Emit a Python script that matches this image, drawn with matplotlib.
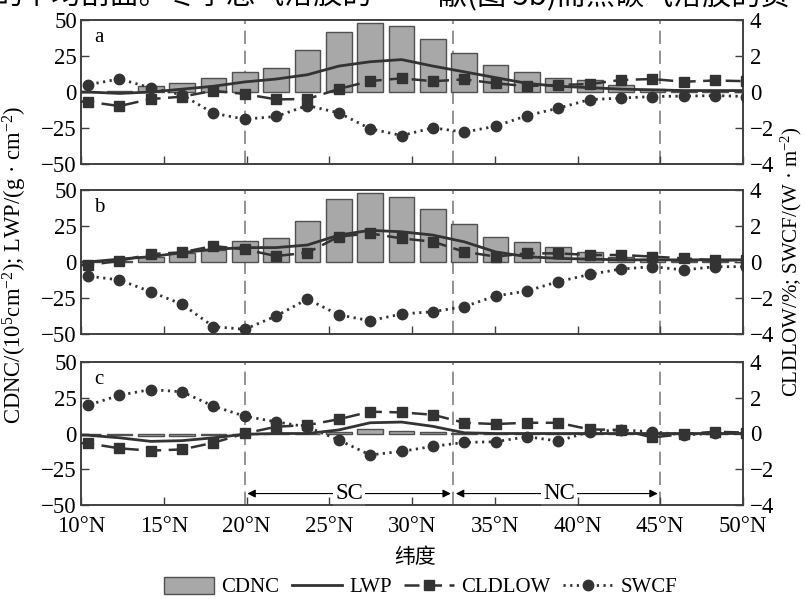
import matplotlib
matplotlib.use("Agg")
import matplotlib.pyplot as plt
from matplotlib.patches import Patch
from matplotlib.lines import Line2D

plt.rcParams['font.family'] = ['Liberation Serif', 'Noto Sans CJK SC', 'DejaVu Sans']
plt.rcParams['mathtext.fontset'] = 'custom'
plt.rcParams['mathtext.rm'] = 'Liberation Serif'
plt.rcParams['mathtext.it'] = 'Liberation Serif:italic'
plt.rcParams['mathtext.bf'] = 'Liberation Serif:bold'

# ---------------- data ----------------
lat = [8.53, 10.42, 12.32, 14.21, 16.11, 18.00, 19.89, 21.79, 23.68, 25.58, 27.47,
       29.37, 31.26, 33.16, 35.05, 36.95, 38.84, 40.74, 42.63, 44.53, 46.42, 48.32, 50.21]

cdnc_a = [0, 0, 1, 4, 6, 10, 14, 17, 29, 42, 48, 46, 37, 27, 19, 14, 10, 8, 5, 2, 1, 0.5, 0]
lwp_a = [0, 0, -1, 0, 2, 4, 7, 9, 12, 18, 21, 22.5, 18, 14, 10, 6, 4, 3, 2, 1.5, 1, 1, 1]
cldlow_a = [-0.5, -0.54, -0.78, -0.39, -0.26, 0.07, -0.11, -0.41, -0.39, 0.17, 0.61, 0.76,
            0.6, 0.7, 0.48, 0.33, 0.39, 0.44, 0.67, 0.72, 0.57, 0.64, 0.6]
swcf_a = [0.3, 0.4, 0.73, 0.23, -0.16, -1.18, -1.51, -1.36, -0.75, -1.16, -2.04, -2.42,
          -1.99, -2.23, -1.9, -1.31, -0.9, -0.42, -0.34, -0.25, -0.23, -0.2, -0.25]

cdnc_b = [0, 0, 1, 3.7, 6, 8, 14.6, 17, 28.5, 43.5, 48, 45, 37, 26.4, 17.6, 14, 10.2, 7.2,
          3.7, 2, 1, 0.5, 0]
lwp_b = [0, 0, 2, 3.7, 6.5, 8.8, 10, 10, 11.8, 18.7, 22, 21, 18.7, 14, 7, 3.7, 2.5, 2, 1.5,
         1.5, 1.5, 1.5, 1.5]
cldlow_b = [-0.2, -0.17, 0.06, 0.44, 0.54, 0.89, 0.7, 0.33, 0.52, 1.41, 1.59, 1.31, 1.13,
            0.57, 0.3, 0.48, 0.48, 0.39, 0.39, 0.3, 0.2, 0.1, 0.1]
swcf_b = [-0.7, -0.78, -1.0, -1.65, -2.35, -3.59, -3.74, -3.0, -2.06, -2.94, -3.26, -2.89,
          -2.76, -2.48, -1.89, -1.61, -1.09, -0.69, -0.39, -0.26, -0.44, -0.26, -0.26]

cdnc_c = [0, 0, -1, -2, -2, -1, 0, 0, 0, 1, 2.8, 1.6, 1, 0.5, 0, 0, 0, 0, 0, 0, 0, 0, 0]
lwp_c = [-1, -1.2, -3, -5.5, -5, -3, -0.5, 0, 0, 2.5, 7.5, 8, 5, 0.5, 0, 0, 0, 0, 0, 0, 0, 0, 0]
cldlow_c = [-0.5, -0.55, -0.83, -0.96, -0.89, -0.52, 0, 0.38, 0.47, 0.8, 1.22, 1.18, 1.05,
            0.6, 0.53, 0.6, 0.6, 0.23, 0.2, -0.22, -0.03, 0.1, 0.05]
swcf_c = [1.5, 1.58, 2.14, 2.46, 2.33, 1.53, 0.97, 0.65, 0.37, -0.37, -1.2, -1.0, -0.72,
          -0.5, -0.46, -0.18, -0.42, 0.1, 0.2, 0.1, -0.08, 0, 0]

panel_labels = ['a', 'b', 'c']
xticks = [10, 15, 20, 25, 30, 35, 40, 45, 50]
xticklabels = ['10°N', '15°N', '20°N', '25°N', '30°N', '35°N', '40°N', '45°N', '50°N']
region_bounds = [19.9, 32.5, 45]
legend_labels = ['CDNC', 'LWP', 'CLDLOW', 'SWCF']

panels = [
    (cdnc_a, lwp_a, cldlow_a, swcf_a),
    (cdnc_b, lwp_b, cldlow_b, swcf_b),
    (cdnc_c, lwp_c, cldlow_c, swcf_c),
]

# ---------------- figure ----------------
W, H = 806, 599
fig = plt.figure(figsize=(W / 100, H / 100), dpi=100)

left_px, right_px = 81, 743
tops = [20, 190, 362]
bots = [164, 334, 505]

dark = '#333333'
spine_col = '#404040'
fs = 15
tfs = 16.5

for i, (cd, lw_, cl, sw) in enumerate(panels):
    ax = fig.add_axes([left_px / W, 1 - bots[i] / H, (right_px - left_px) / W,
                       (bots[i] - tops[i]) / H])
    ax.bar(lat, cd, width=1.55, color='#a8a8a8', edgecolor='#505050', lw=1.0, zorder=2)
    ax.plot(lat, lw_, color=dark, lw=2.0, zorder=4)
    for xb in region_bounds:
        ax.axvline(xb, color='#808080', lw=1.2, ls=(0, (8, 4)), zorder=1)
    ax.set_xlim(10, 50)
    ax.set_ylim(-50, 50)
    ax.set_yticks([-50, -25, 0, 25, 50])
    ax.set_xticks(xticks)
    if i == 2:
        ax.set_xticklabels(xticklabels)
    else:
        ax.set_xticklabels([])
    ax.tick_params(axis='y', direction='in', length=6, width=1.0, labelsize=tfs,
                   colors=spine_col, labelcolor='black', right=False, pad=3)
    ax.tick_params(axis='x', direction='in', length=6, width=1.0, labelsize=tfs,
                   colors=spine_col, labelcolor='black', top=False, pad=8)
    for s in ax.spines.values():
        s.set_color(spine_col)
        s.set_linewidth(1.2)
    ax.text(0.02, 0.88, panel_labels[i], transform=ax.transAxes, fontsize=fs,
            ha='left', va='center')

    ax2 = ax.twinx()
    ax2.plot(lat, cl, color=dark, lw=1.8, ls=(0, (6, 3)), marker='s', ms=6.5, zorder=5)
    ax2.plot(lat, sw, color=dark, lw=2.0, ls=(0, (0.8, 1.6)), marker='o', ms=7.5, zorder=5)
    ax2.set_ylim(-4, 4)
    ax2.set_yticks([-4, -2, 0, 2, 4])
    ax2.set_xlim(10, 50)
    ax2.tick_params(direction='in', length=6, width=1.0, labelsize=tfs, colors=spine_col,
                    labelcolor='black', pad=5)
    for s in ax2.spines.values():
        s.set_color(spine_col)
        s.set_linewidth(1.2)

    if i == 2:
        y_arr = -42
        for (x0, x1, xt, lab) in [(19.9, 32.5, 26.2, 'SC'), (32.5, 45, 38.9, 'NC')]:
            ax.annotate('', xy=(x0 + 0.15, y_arr), xytext=(xt, y_arr),
                        arrowprops=dict(arrowstyle='-|>', color='black', lw=0.8,
                                        mutation_scale=12, shrinkA=0, shrinkB=0), zorder=6)
            ax.annotate('', xy=(x1 - 0.15, y_arr), xytext=(xt, y_arr),
                        arrowprops=dict(arrowstyle='-|>', color='black', lw=0.8,
                                        mutation_scale=12, shrinkA=0, shrinkB=0), zorder=6)
            ax.text(xt, y_arr, lab, ha='center', va='center', fontsize=tfs, zorder=7,
                    bbox=dict(facecolor='white', edgecolor='none', pad=1.5))

# axis labels
fig.text(0.019, 1 - 265 / H, r'CDNC/(10$^{5}$cm$^{-2}$); LWP/(g · cm$^{-2}$)',
         rotation=90, ha='center', va='center', fontsize=16.3)
fig.text(0.982, 1 - 262 / H, r'CLDLOW/%; SWCF/(W · m$^{-2}$)',
         rotation=90, ha='center', va='center', fontsize=fs)
fig.text(0.515, 1 - 557 / H, '纬度', ha='center', va='center', fontsize=fs,
         family=['Noto Sans CJK SC'])

# cropped page text at top (only its lower half lies inside the figure)
fig.text(-0.008, 1 + 3 / H, '的平均剖面。冬季总气溶胶的', ha='left', va='center',
         fontsize=21, family=['Noto Sans CJK SC'])
fig.text(438 / W, 1 + 3 / H, '献(图 5b)而黑碳气溶胶的贡', ha='left', va='center',
         fontsize=21, family=['Noto Sans CJK SC'])

# legend
handles = [
    Patch(facecolor='#a8a8a8', edgecolor='#505050', lw=1.0),
    Line2D([], [], color=dark, lw=2.0),
    Line2D([], [], color=dark, lw=1.8, ls=(0, (6, 3)), marker='s', ms=6.5),
    Line2D([], [], color=dark, lw=2.0, ls=(0, (0.8, 1.6)), marker='o', ms=7.5),
]
fig.legend(handles, legend_labels, loc='center', bbox_to_anchor=(0.522, 1 - 587 / H),
           ncol=4, frameon=False, fontsize=fs, handlelength=2.4, handleheight=0.9,
           columnspacing=0.6, handletextpad=0.35)

fig.savefig('out.png', dpi=100)
